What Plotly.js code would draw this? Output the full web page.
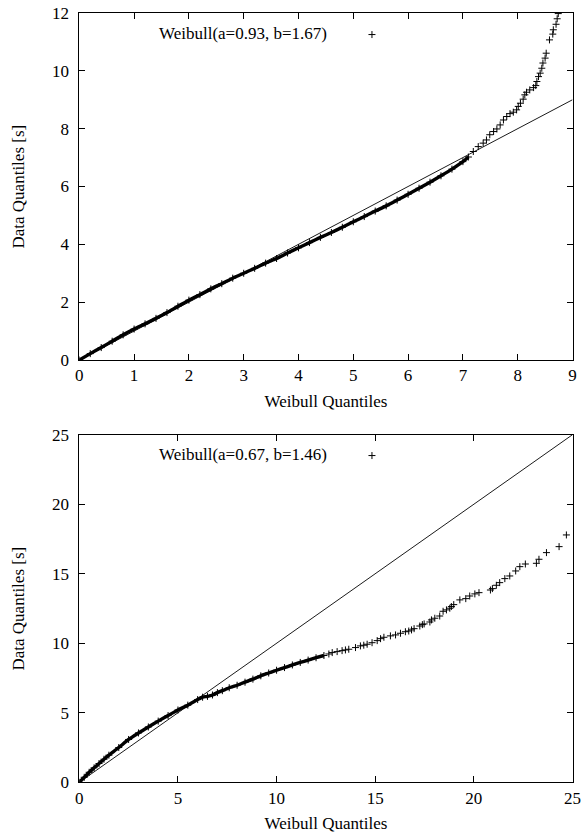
<!DOCTYPE html>
<html>
<head>
<meta charset="utf-8">
<script src="https://cdn.plot.ly/plotly-3.0.1.min.js"></script>
<style>html,body{margin:0;padding:0;background:#fff;}#chart{width:581px;height:837px;}</style>
</head>
<body>
<div id="chart"></div>
<script>
// ---------- Top panel: Weibull(a=0.93, b=1.67) ----------
const topLabel = "Weibull(a=0.93, b=1.67)";
const topDenseX = [0,0.2,0.4,0.6,0.8,1.0,1.2,1.4,1.6,1.8,2.0,2.2,2.4,2.6,2.8,3.0,3.2,3.4,3.6,3.8,4.0,4.2,4.4,4.6,4.8,5.0,5.2,5.4,5.6,5.8,6.0,6.2,6.4,6.6,6.8,7.0,7.1];
const topDenseY = [0,0.22,0.43,0.65,0.87,1.07,1.25,1.44,1.64,1.86,2.07,2.26,2.46,2.64,2.83,3.0,3.17,3.35,3.51,3.70,3.88,4.06,4.24,4.41,4.59,4.78,4.96,5.15,5.33,5.53,5.73,5.94,6.15,6.37,6.60,6.86,7.02];
const topTailX = [7.19,7.28,7.37,7.43,7.49,7.56,7.62,7.68,7.74,7.80,7.86,7.92,7.98,8.01,8.05,8.10,8.13,8.16,8.22,8.29,8.33,8.35,8.38,8.41,8.44,8.46,8.50,8.52,8.58,8.64,8.65,8.70,8.72,8.74];
const topTailY = [7.21,7.38,7.50,7.61,7.79,7.90,7.99,8.13,8.30,8.42,8.52,8.57,8.65,8.77,8.88,9.02,9.17,9.26,9.34,9.42,9.49,9.63,9.80,9.92,10.09,10.27,10.44,10.61,11.07,11.27,11.42,11.61,11.80,11.98];
const topRefX = [0, 9];
const topRefY = [0, 9];
const topXTicks = [0,1,2,3,4,5,6,7,8,9];
const topYTicks = [0,2,4,6,8,10,12];

// ---------- Bottom panel: Weibull(a=0.67, b=1.46) ----------
const botLabel = "Weibull(a=0.67, b=1.46)";
const botDenseX = [0,0.25,0.5,0.75,1.0,1.25,1.5,2.0,2.5,3.0,3.5,4.0,4.5,5.0,5.5,6.0,6.25,6.5,6.75,7.0,7.25,7.6,8.0,8.4,8.8,9.2,9.6,10.0,10.4,10.8,11.2,11.6,12.0,12.4];
const botDenseY = [0,0.36,0.72,1.04,1.35,1.66,1.95,2.50,3.08,3.55,3.98,4.40,4.80,5.20,5.55,5.95,6.12,6.18,6.28,6.45,6.59,6.80,6.98,7.20,7.42,7.66,7.86,8.06,8.25,8.44,8.62,8.79,8.96,9.12];
const botTailX = [12.65,12.82,13.07,13.32,13.49,13.66,14.0,14.25,14.42,14.59,14.84,15.10,15.27,15.44,15.77,16.03,16.28,16.53,16.70,16.84,16.97,17.26,17.39,17.48,17.77,17.85,18.02,18.27,18.44,18.61,18.78,18.86,18.98,19.29,19.59,19.79,20.05,20.26,20.84,20.94,21.14,21.31,21.57,21.82,22.12,22.33,22.61,23.17,23.30,23.68,24.32,24.69];
const botTailY = [9.23,9.33,9.40,9.47,9.52,9.57,9.69,9.81,9.86,9.93,10.04,10.19,10.33,10.43,10.53,10.60,10.72,10.83,10.88,10.96,11.05,11.24,11.34,11.39,11.53,11.68,11.80,11.96,12.30,12.40,12.52,12.64,12.78,13.12,13.21,13.40,13.55,13.64,13.83,13.93,14.17,14.36,14.65,14.84,15.20,15.51,15.70,15.75,16.04,16.52,16.95,17.79];
const botRefX = [0, 25];
const botRefY = [0, 25];
const botXTicks = [0,5,10,15,20,25];
const botYTicks = [0,5,10,15,20,25];

const xTitle = 'Weibull Quantiles';
const yTitle = 'Data Quantiles [s]';

const FONT = '"Liberation Serif", "Times New Roman", serif';
const W = 581, H = 837;
const xdom = [79.3/W, 572.5/W];
const topDom = [1-360/H, 1-13/H];
const botDom = [1-782.3/H, 1-434.7/H];

const mk = {symbol:'cross-thin-open', size:5, color:'#000', line:{color:'#000', width:1}};

function denseTrace(x, y, xa, ya){
  return {x:x, y:y, xaxis:xa, yaxis:ya, type:'scatter', mode:'lines+markers',
          line:{color:'#000', width:3.4, shape:'spline', smoothing:0.6}, marker:mk, showlegend:false, hoverinfo:'skip', cliponaxis:true};
}
function tailTrace(x, y, xa, ya, leg){
  return {x:x, y:y, xaxis:xa, yaxis:ya, type:'scatter', mode:'markers', name:' ',
          marker:mk, showlegend:true, legend:leg, cliponaxis:true};
}
function refTrace(x, y, xa, ya){
  return {x:x, y:y, xaxis:xa, yaxis:ya, type:'scatter', mode:'lines',
          line:{color:'#000', width:0.9}, showlegend:false, hoverinfo:'skip'};
}

const data = [
  refTrace(topRefX, topRefY, 'x', 'y'),
  denseTrace(topDenseX, topDenseY, 'x', 'y'),
  tailTrace(topTailX, topTailY, 'x', 'y', 'legend'),
  refTrace(botRefX, botRefY, 'x2', 'y2'),
  denseTrace(botDenseX, botDenseY, 'x2', 'y2'),
  tailTrace(botTailX, botTailY, 'x2', 'y2', 'legend2')
];

function axis(dom, range, ticks, title, anchor, isY){
  const a = {domain:dom, range:range, tickvals:ticks, ticktext:ticks.map(String), anchor:anchor,
          showgrid:false, zeroline:false, showline:true, linecolor:'#000', linewidth:1,
          mirror:'ticks', ticks:'inside', ticklen:6, tickcolor:'#000', tickwidth:1,
          tickfont:{family:FONT, size:17, color:'#000'}};
  if (isY) {
    a.ticklabelstandoff = 6;
  } else {
    a.title = {text:title, font:{family:FONT, size:17, color:'#000'}, standoff:10};
  }
  return a;
}

function legendCfg(yTopPx, label){
  return {x:157/W, y:1-yTopPx/H, xanchor:'left', yanchor:'top', bgcolor:'rgba(0,0,0,0)',
          borderwidth:0, font:{family:FONT, size:17, color:'#000'},
          title:{text:label, side:'left', font:{family:FONT, size:17, color:'#000'}},
          itemwidth:64};
}

function yTitleAnn(dom){
  return {text:yTitle, xref:'paper', yref:'paper', x:18/W, y:(dom[0]+dom[1])/2,
          xanchor:'center', yanchor:'middle', textangle:-90, showarrow:false,
          font:{family:FONT, size:17, color:'#000'}};
}

const layout = {
  width:W, height:H, margin:{l:0, r:0, t:0, b:0},
  paper_bgcolor:'#fff', plot_bgcolor:'#fff',
  font:{family:FONT, size:17, color:'#000'},
  xaxis: axis(xdom, [0,9], topXTicks, xTitle, 'y', false),
  yaxis: axis(topDom, [0,12], topYTicks, yTitle, 'x', true),
  xaxis2: axis(xdom, [0,25], botXTicks, xTitle, 'y2', false),
  yaxis2: axis(botDom, [0,25], botYTicks, yTitle, 'x2', true),
  legend: legendCfg(17, topLabel),
  legend2: legendCfg(438, botLabel),
  annotations: [yTitleAnn(topDom), yTitleAnn(botDom)],
  showlegend:true
};

Plotly.newPlot('chart', data, layout, {staticPlot:true, displayModeBar:false});
</script>
</body>
</html>
